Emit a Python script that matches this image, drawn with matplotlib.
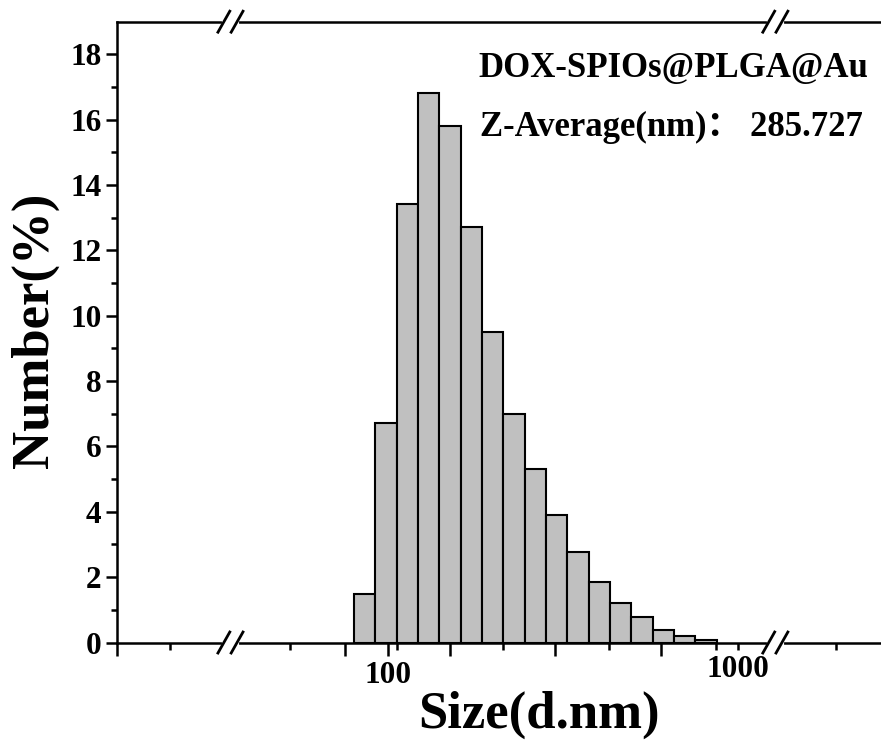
import numpy as np
import matplotlib
matplotlib.use('Agg')
import matplotlib.pyplot as plt

# DLS number distribution, bins in nm (log spaced edges), values in %
bin_edges = [79.8, 91.8, 105.7, 121.6, 139.9, 161.0, 185.3, 213.2, 245.3,
             282.3, 324.8, 373.8, 430.0, 494.8, 569.2, 655.0, 753.8, 867.5]
number_pct = [1.50, 6.71, 13.41, 16.81, 15.81, 12.73, 9.50, 6.99, 5.30,
              3.90, 2.78, 1.86, 1.20, 0.77, 0.38, 0.20, 0.08]

sample_name = 'DOX-SPIOs@PLGA@Au'
z_average = '285.727'

x_range = (16.75, 2557)
y_range = (0, 19)
x_major = [16.8, 75, 100, 150, 300, 600]
x_major_labels = ['', '', '100', '', '', '']
x_minor = [23.8, 52.4, 105.7, 213, 428, 863, 1000, 1902]
x_minor_labels = ['', '', '', '', '', '', '1000', '']
x_breaks = [35.4, 1276]

plt.rcParams['font.family'] = ['Liberation Serif', 'Noto Sans CJK SC']
plt.rcParams['font.weight'] = 'bold'

fig = plt.figure(figsize=(8.81, 7.56), dpi=100)
ax = fig.add_axes([0.1325, 0.1501, 0.8675, 0.8212])

edges = np.array(bin_edges)
ax.bar(edges[:-1], number_pct, width=np.diff(edges), align='edge',
       color='#c0c0c0', edgecolor='black', linewidth=1.5, zorder=2)

ax.set_xscale('log')
ax.set_xlim(*x_range)
ax.set_ylim(*y_range)

ax.set_xticks(x_major, labels=x_major_labels)
ax.set_xticks(x_minor, labels=x_minor_labels, minor=True)
ax.set_yticks(np.arange(0, 19, 2))
ax.set_yticks(np.arange(1, 19, 2), minor=True)

ax.tick_params(axis='both', which='both', direction='out', width=1.8,
               labelsize=22.5)
ax.tick_params(axis='x', which='major', length=9, pad=4)
ax.tick_params(axis='x', which='minor', length=5, pad=4)
ax.tick_params(axis='y', which='major', length=8, pad=3)
ax.tick_params(axis='y', which='minor', length=4.5)
for lab in ax.get_xticklabels(which='both') + ax.get_yticklabels():
    lab.set_fontweight('bold')

for side in ['left', 'bottom', 'top']:
    ax.spines[side].set_linewidth(1.8)
ax.spines['right'].set_visible(False)

# axis break marks
lx0, lx1 = np.log10(x_range)
dx = 6.6 / 764.3
dy = 11.7 / 620.8
gap = 6.6 / 764.3
for xb in x_breaks:
    fx = (np.log10(xb) - lx0) / (lx1 - lx0)
    for fy in [0, 1]:
        ax.plot([fx - gap, fx + gap], [fy, fy], color='white', lw=3,
                transform=ax.transAxes, clip_on=False, zorder=5)
        for off in [-gap, gap]:
            ax.plot([fx + off - dx, fx + off + dx], [fy - dy, fy + dy],
                    color='black', lw=2, transform=ax.transAxes,
                    clip_on=False, zorder=6, solid_capstyle='butt')

fig.text(539 / 881, 1 - 715 / 756, 'Size(d.nm)', ha='center', va='center',
         fontsize=38, fontweight='bold')
fig.text(35 / 881, 1 - 330 / 756, 'Number(%)', ha='center', va='center',
         rotation=90, fontsize=38, fontweight='bold')

fig.text(478 / 881, 1 - 68 / 756, sample_name, ha='left', va='center',
         fontsize=25, fontweight='bold')
fig.text(480 / 881, 1 - 127 / 756, 'Z-Average(nm)： ' + z_average,
         ha='left', va='center', fontsize=25, fontweight='bold')

fig.savefig('out.png', dpi=100)
